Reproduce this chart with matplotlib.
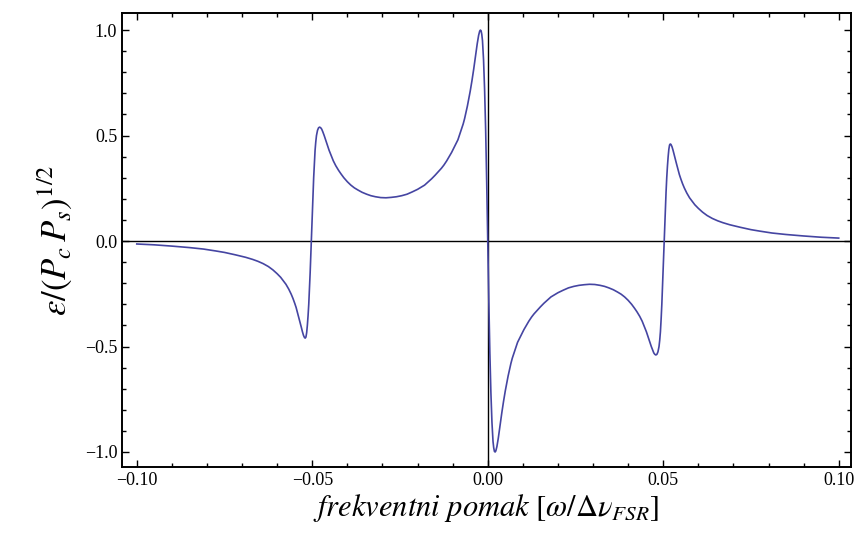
import numpy as np
import matplotlib
matplotlib.use("Agg")
import matplotlib.pyplot as plt
from matplotlib.ticker import MultipleLocator

plt.rcParams['font.family'] = ['Liberation Serif', 'DejaVu Serif']
plt.rcParams['mathtext.fontset'] = 'stix'

# - - - - - - - DATA - - - - - - - #

# frequency offset, x < 0 half
x_left = [-0.1000, -0.0950, -0.0900, -0.0850, -0.0810, -0.0775, -0.0750, -0.0720, -0.0690, -0.0670,
          -0.0655, -0.0640, -0.0625, -0.0612, -0.0600, -0.0590, -0.0583, -0.0575, -0.0567, -0.0560,
          -0.0555, -0.0550, -0.0546, -0.0542, -0.0538, -0.0534, -0.0531, -0.0528, -0.0525, -0.0522,
          -0.0520, -0.0518, -0.0516, -0.0514, -0.0512, -0.0510, -0.0508, -0.0506, -0.0504, -0.0502,
          -0.0500, -0.0498, -0.0496, -0.0494, -0.0492, -0.0490, -0.0488, -0.0485, -0.0482, -0.0479,
          -0.0476, -0.0473, -0.0470, -0.0466, -0.0462, -0.0457, -0.0452, -0.0446, -0.0440, -0.0433,
          -0.0425, -0.0418, -0.0410, -0.0400, -0.0390, -0.0380, -0.0370, -0.0358, -0.0345, -0.0333,
          -0.0320, -0.0305, -0.0290, -0.0275, -0.0260, -0.0245, -0.0230, -0.0215, -0.0200, -0.0190,
          -0.0180, -0.0170, -0.0160, -0.0150, -0.0140, -0.0132, -0.0125, -0.0117, -0.0110, -0.0103,
          -0.0097, -0.0091, -0.0085, -0.0080, -0.0075, -0.0070, -0.0066, -0.0062, -0.0058, -0.0054,
          -0.0050, -0.0045, -0.0040, -0.0035, -0.0030, -0.0026, -0.0023, -0.0021, -0.0019, -0.0017,
          -0.0015, -0.0012, -0.0009, -0.0006, -0.0003]
err_left = [-0.014, -0.018, -0.024, -0.031, -0.038, -0.047, -0.054, -0.065, -0.077, -0.087,
            -0.096, -0.107, -0.121, -0.137, -0.155, -0.172, -0.187, -0.205, -0.228, -0.252,
            -0.272, -0.295, -0.315, -0.34, -0.365, -0.39, -0.41, -0.43, -0.447, -0.458,
            -0.46, -0.455, -0.435, -0.40, -0.355, -0.30, -0.23, -0.15, -0.06, 0.03,
            0.12, 0.21, 0.30, 0.37, 0.43, 0.47, 0.50, 0.525, 0.537, 0.54,
            0.537, 0.53, 0.518, 0.50, 0.48, 0.455, 0.43, 0.405, 0.38, 0.357,
            0.335, 0.318, 0.30, 0.281, 0.265, 0.252, 0.242, 0.231, 0.222, 0.215,
            0.210, 0.206, 0.205, 0.207, 0.210, 0.215, 0.222, 0.233, 0.245, 0.255,
            0.265, 0.28, 0.295, 0.312, 0.33, 0.345, 0.36, 0.38, 0.40, 0.42,
            0.44, 0.46, 0.48, 0.505, 0.53, 0.555, 0.58, 0.61, 0.64, 0.675,
            0.71, 0.76, 0.815, 0.875, 0.935, 0.975, 0.995, 1.00, 0.997, 0.98,
            0.95, 0.86, 0.72, 0.53, 0.28]

# frequency offset, x >= 0 half
x_right = [0.0, 0.0003, 0.0006, 0.0009, 0.0012, 0.0015, 0.0017, 0.0019, 0.0021, 0.0023,
           0.0026, 0.0030, 0.0035, 0.0040, 0.0045, 0.0050, 0.0054, 0.0058, 0.0062, 0.0066,
           0.0070, 0.0075, 0.0080, 0.0085, 0.0091, 0.0097, 0.0103, 0.0110, 0.0117, 0.0125,
           0.0132, 0.0140, 0.0150, 0.0160, 0.0170, 0.0180, 0.0190, 0.0200, 0.0215, 0.0230,
           0.0245, 0.0260, 0.0275, 0.0290, 0.0305, 0.0320, 0.0333, 0.0345, 0.0358, 0.0370,
           0.0380, 0.0390, 0.0400, 0.0410, 0.0418, 0.0425, 0.0433, 0.0440, 0.0446, 0.0452,
           0.0457, 0.0462, 0.0466, 0.0470, 0.0473, 0.0476, 0.0479, 0.0482, 0.0485, 0.0488,
           0.0490, 0.0492, 0.0494, 0.0496, 0.0498, 0.0500, 0.0502, 0.0504, 0.0506, 0.0508,
           0.0510, 0.0512, 0.0514, 0.0516, 0.0518, 0.0520, 0.0522, 0.0525, 0.0528, 0.0531,
           0.0534, 0.0538, 0.0542, 0.0546, 0.0550, 0.0555, 0.0560, 0.0567, 0.0575, 0.0583,
           0.0590, 0.0600, 0.0612, 0.0625, 0.0640, 0.0655, 0.0670, 0.0690, 0.0720, 0.0750,
           0.0775, 0.0810, 0.0850, 0.0900, 0.0950, 0.1000]
err_right = [0.0, -0.28, -0.53, -0.72, -0.86, -0.95, -0.98, -0.997, -1.00, -0.995,
             -0.975, -0.935, -0.875, -0.815, -0.76, -0.71, -0.675, -0.64, -0.61, -0.58,
             -0.555, -0.53, -0.505, -0.48, -0.46, -0.44, -0.42, -0.40, -0.38, -0.36,
             -0.345, -0.33, -0.312, -0.295, -0.28, -0.265, -0.255, -0.245, -0.233, -0.222,
             -0.215, -0.210, -0.207, -0.205, -0.206, -0.210, -0.215, -0.222, -0.231, -0.242,
             -0.252, -0.265, -0.281, -0.30, -0.318, -0.335, -0.357, -0.38, -0.405, -0.43,
             -0.455, -0.48, -0.50, -0.518, -0.53, -0.537, -0.54, -0.537, -0.525, -0.50,
             -0.47, -0.43, -0.37, -0.30, -0.21, -0.12, -0.03, 0.06, 0.15, 0.23,
             0.30, 0.355, 0.40, 0.435, 0.455, 0.46, 0.458, 0.447, 0.43, 0.41,
             0.39, 0.365, 0.34, 0.315, 0.295, 0.272, 0.252, 0.228, 0.205, 0.187,
             0.172, 0.155, 0.137, 0.121, 0.107, 0.096, 0.087, 0.077, 0.065, 0.054,
             0.047, 0.038, 0.031, 0.024, 0.018, 0.014]

x_ticks = [-0.10, -0.05, 0.00, 0.05, 0.10]
x_ticklabels = ['\u22120.10', '\u22120.05', '0.00', '0.05', '0.10']
y_ticks = [-1.0, -0.5, 0.0, 0.5, 1.0]
y_ticklabels = ['\u22121.0', '\u22120.5', '0.0', '0.5', '1.0']

freq = np.array(x_left + x_right)
err = np.array(err_left + err_right)

# - - - - - - - PLOT - - - - - - - #
fig = plt.figure(figsize=(8.57, 5.37), dpi=100)
ax = fig.add_axes([0.1424, 0.1304, 0.8506, 0.8454])

ax.axhline(0, color='black', lw=1.0, zorder=1)
ax.axvline(0, color='black', lw=1.0, zorder=1)
ax.plot(freq, err, color='#4545a2', lw=1.2, zorder=2)

ax.set_xlim(-0.1042, 0.1035)
ax.set_ylim(-1.071, 1.081)

ax.set_xticks(x_ticks)
ax.set_xticklabels(x_ticklabels)
ax.set_yticks(y_ticks)
ax.set_yticklabels(y_ticklabels)
ax.xaxis.set_minor_locator(MultipleLocator(0.01))
ax.yaxis.set_minor_locator(MultipleLocator(0.1))
ax.tick_params(which='both', direction='in', top=True, right=True, width=1.0, labelsize=13)
ax.tick_params(which='major', length=5)
ax.tick_params(which='minor', length=3)
for s in ax.spines.values():
    s.set_linewidth(1.4)

ax.set_xlabel(r'$\mathit{frekventni\ pomak}\ [\omega/\Delta\nu_{FSR}]$', fontsize=22, labelpad=2)
ax.set_ylabel(r'$\varepsilon/(P_c\,P_s)^{1/2}$', fontsize=25, labelpad=8)

plt.savefig('out.png', dpi=100)
